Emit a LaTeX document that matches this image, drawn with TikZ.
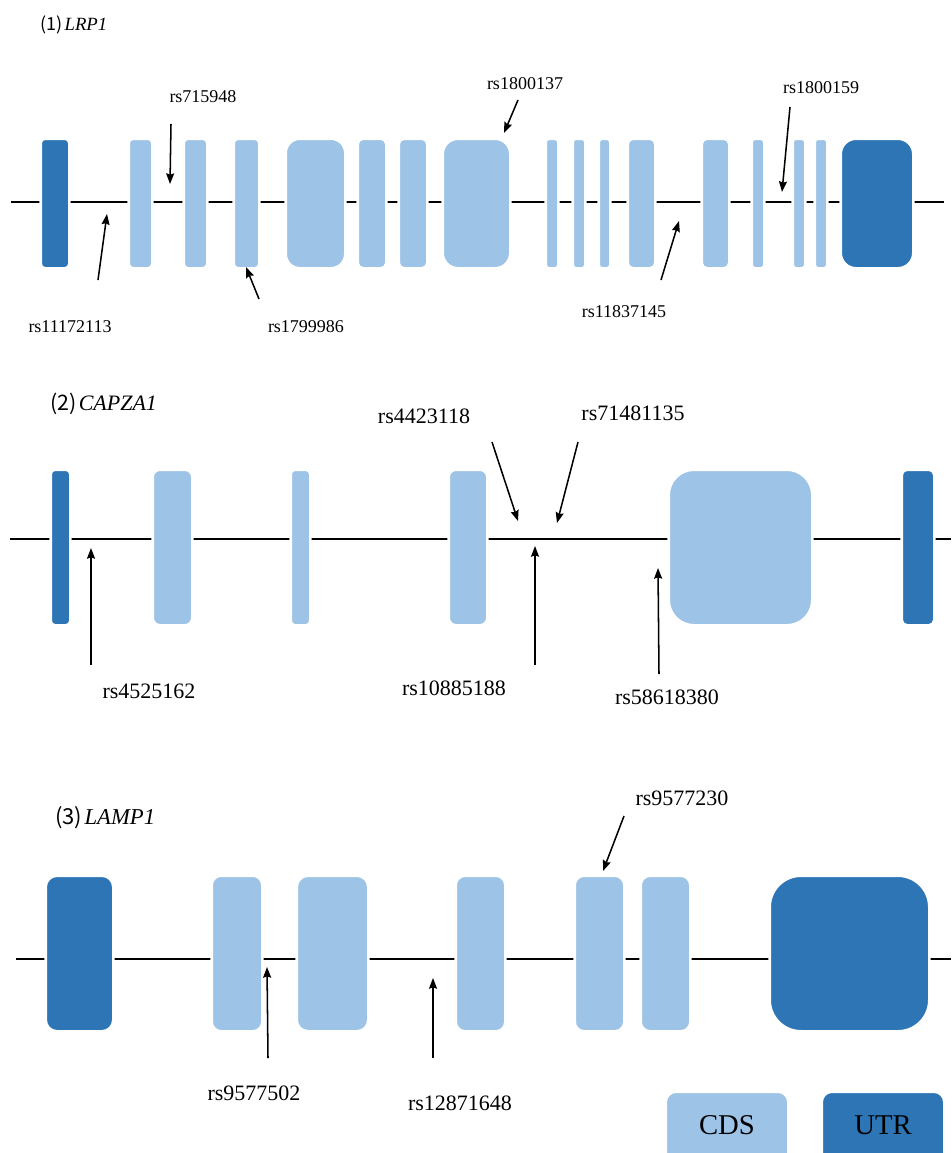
\documentclass[tikz,border=0pt]{standalone}
\usepackage{fontspec}
\setmainfont{Liberation Serif}
\newfontfamily\cjk{Noto Sans CJK SC}
\usetikzlibrary{arrows.meta}
\definecolor{cdsblue}{HTML}{9DC3E6}
\definecolor{utrblue}{HTML}{2E75B6}
\newcommand\exon[7]{% name, style, x1, x2, ytop, ybot, radius(px)
  \node[#2, rounded corners=#7*0.75pt+1pt, minimum width={(#4-#3)*0.75pt+2pt}, minimum height={(#6-#5)*0.75pt+2pt}] (#1) at ({(#3+#4)/2},{(#5+#6)/2}) {};}
\tikzset{
  cds/.style={rectangle, fill=cdsblue, draw=white, line width=2pt, inner sep=0pt, outer sep=0pt},
  utr/.style={rectangle, fill=utrblue, draw=white, line width=2pt, inner sep=0pt, outer sep=0pt},
  backbone/.style={draw=black, line width=1.7pt},
  snp/.style={draw=black, line width=1.15pt, -{Stealth[length=8pt,width=6pt,inset=1pt]}},
  lab/.style={inner sep=0pt, font=\fontsize{13.5}{15}\selectfont},
  labB/.style={inner sep=0pt, font=\fontsize{16.5}{18}\selectfont},
  ttl/.style={inner sep=0pt, anchor=west},
  leg/.style={inner sep=0pt, font=\fontsize{21.5}{24}\selectfont},
}
\begin{document}
\begin{tikzpicture}[x=0.75pt, y=-0.75pt]
\useasboundingbox (0,0) rectangle (951,1153);
\clip (0,0) rectangle (951,1153);
% ---------------- Panel 1: LRP1 ----------------
\node[ttl] (t1) at (40,25) {{\cjk\fontsize{13.5}{15}\selectfont(1)}\,{\fontsize{14}{16}\selectfont\itshape LRP1}};
\coordinate (b1s) at (11,202);
\coordinate (b1e) at (944,202);
\draw[backbone] (b1s) -- (b1e);
\exon{a1}{utr}{42}{68}{140}{267}{3}
\exon{a2}{cds}{130}{151}{140}{267}{3}
\exon{a3}{cds}{185}{206}{140}{267}{3}
\exon{a4}{cds}{235}{258}{140}{267}{3}
\exon{a5}{cds}{287}{344}{140}{267}{13}
\exon{a6}{cds}{359}{385}{140}{267}{4}
\exon{a7}{cds}{400}{426}{140}{267}{4}
\exon{a8}{cds}{444}{509}{140}{267}{14}
\exon{a9}{cds}{547}{557}{140}{267}{2}
\exon{a10}{cds}{574}{584}{140}{267}{2}
\exon{a11}{cds}{600}{609}{140}{267}{2}
\exon{a12}{cds}{629}{654}{140}{267}{4}
\exon{a13}{cds}{703}{728}{140}{267}{4}
\exon{a14}{cds}{753}{763}{140}{267}{2}
\exon{a15}{cds}{794}{804}{140}{267}{2}
\exon{a16}{cds}{816}{826}{140}{267}{2}
\exon{a17}{utr}{842}{912}{140}{267}{14}
\node[lab] (l11) at (70,327) {rs11172113};
\node[lab] (l12) at (203,97) {rs715948};
\node[lab] (l13) at (306,327) {rs1799986};
\node[lab] (l14) at (525,84) {rs1800137};
\node[lab] (l15) at (624,312) {rs11837145};
\node[lab] (l16) at (821,88) {rs1800159};
\coordinate (s11t) at (98,280);  \coordinate (s11h) at (107,214);
\coordinate (s12t) at (171,124); \coordinate (s12h) at (170,184);
\coordinate (s13t) at (259,299); \coordinate (s13h) at (246,267);
\coordinate (s14t) at (518,100); \coordinate (s14h) at (504,133);
\coordinate (s15t) at (661,280); \coordinate (s15h) at (679,221);
\coordinate (s16t) at (790,107); \coordinate (s16h) at (782,192);
\draw[snp] (s11t) -- (s11h);
\draw[snp] (s12t) -- (s12h);
\draw[snp] (s13t) -- (s13h);
\draw[snp] (s14t) -- (s14h);
\draw[snp] (s15t) -- (s15h);
\draw[snp] (s16t) -- (s16h);
% ---------------- Panel 2: CAPZA1 ----------------
\node[ttl] (t2) at (50,404) {{\cjk\fontsize{16}{18}\selectfont(2)}\,{\fontsize{16.5}{18}\selectfont\itshape CAPZA1}};
\coordinate (b2s) at (10,539);
\coordinate (b2e) at (951,539);
\draw[backbone] (b2s) -- (b2e);
\exon{c1}{utr}{52}{69}{471}{624}{3}
\exon{c2}{cds}{154}{191}{471}{624}{6}
\exon{c3}{cds}{292}{309}{471}{624}{3}
\exon{c4}{cds}{450}{486}{471}{624}{6}
\exon{c5}{cds}{670}{811}{471}{624}{24}
\exon{c6}{utr}{903}{933}{471}{624}{4}
\node[labB] (l21) at (149,691) {rs4525162};
\node[labB] (l22) at (424,416) {rs4423118};
\node[labB] (l23) at (633,413) {rs71481135};
\node[labB] (l24) at (454,688) {rs10885188};
\node[labB] (l25) at (667,697) {rs58618380};
\coordinate (s21t) at (91,665);  \coordinate (s21h) at (91,548);
\coordinate (s22t) at (492,442); \coordinate (s22h) at (518,521);
\coordinate (s23t) at (578,442); \coordinate (s23h) at (557,523);
\coordinate (s24t) at (535,665); \coordinate (s24h) at (535,546);
\coordinate (s25t) at (659,674); \coordinate (s25h) at (658,568);
\draw[snp] (s21t) -- (s21h);
\draw[snp] (s22t) -- (s22h);
\draw[snp] (s23t) -- (s23h);
\draw[snp] (s24t) -- (s24h);
\draw[snp] (s25t) -- (s25h);
% ---------------- Panel 3: LAMP1 ----------------
\node[ttl] (t3) at (55,818) {{\cjk\fontsize{16.5}{18}\selectfont(3)}\,{\fontsize{17}{19}\selectfont\itshape LAMP1}};
\coordinate (b3s) at (16,959);
\coordinate (b3e) at (951,959);
\draw[backbone] (b3s) -- (b3e);
\exon{d1}{utr}{47}{112}{877}{1030}{10}
\exon{d2}{cds}{213}{261}{877}{1030}{8}
\exon{d3}{cds}{298}{367}{877}{1030}{10}
\exon{d4}{cds}{457}{504}{877}{1030}{8}
\exon{d5}{cds}{576}{623}{877}{1030}{8}
\exon{d6}{cds}{642}{689}{877}{1030}{8}
\exon{d7}{utr}{771}{928}{877}{1030}{30}
\node[labB] (l31) at (254,1093) {rs9577502};
\node[labB] (l32) at (460,1103) {rs12871648};
\node[labB] (l33) at (682,798) {rs9577230};
\coordinate (s31t) at (268,1058); \coordinate (s31h) at (267,967);
\coordinate (s32t) at (433,1058); \coordinate (s32h) at (433,978);
\coordinate (s33t) at (624,816);  \coordinate (s33h) at (603,871);
\draw[snp] (s31t) -- (s31h);
\draw[snp] (s32t) -- (s32h);
\draw[snp] (s33t) -- (s33h);
% ---------------- Legend ----------------
\exon{kc}{cds}{667}{787}{1093}{1175}{9}
\exon{ku}{utr}{823}{943}{1093}{1175}{9}
\node[leg] (kct) at (727,1125) {CDS};
\node[leg] (kut) at (883,1125) {UTR};
\end{tikzpicture}
\end{document}
